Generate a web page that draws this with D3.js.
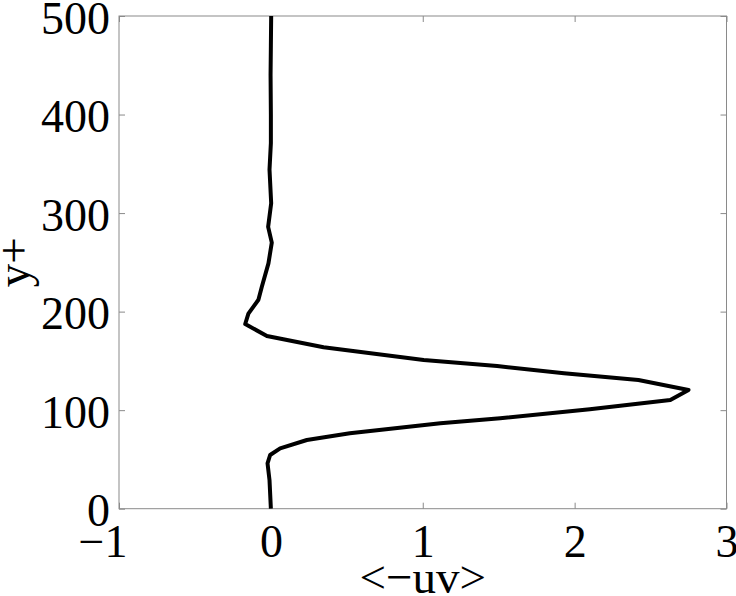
<!DOCTYPE html>
<html>
<head>
<meta charset="utf-8">
<script src="https://cdn.jsdelivr.net/npm/d3@7"></script>
<style>
  body { margin: 0; background: #fff; }
  svg { display: block; }
</style>
</head>
<body>
<script>
var w = 736, h = 596;
var margin = {top: 16, right: 9.5, bottom: 87.3, left: 119};
var innerW = w - margin.left - margin.right,
    innerH = h - margin.top - margin.bottom;

// <-uv> profile, from y+ = 500 down to 0
var yPlus = [500, 470, 440, 400, 371, 344, 310, 286, 270, 249, 225, 212, 198, 187.4,
             175.3, 163.8, 150.9, 144.8, 137.4, 130.6, 120.5, 110.3, 101, 91.7, 86.7,
             76.5, 69.7, 61.3, 54.5, 46, 29, 0];
var uv = [0.002, 0, -0.002, 0, 0, -0.009, 0.002, -0.018, 0.006, -0.016, -0.06, -0.082, -0.148, -0.169,
          -0.026, 0.347, 1.006, 1.49, 1.93, 2.42, 2.75, 2.63, 2.1, 1.51, 1.116,
          0.52, 0.237, 0.061, -0.005, -0.022, -0.009, 0];
var xTicks = [-1, 0, 1, 2, 3];
var yTicks = [0, 100, 200, 300, 400, 500];

var font = '"Liberation Serif", "Times New Roman", serif';
var axisColor = '#8a8a8a';

var svg = d3.select('body').append('svg')
    .attr('width', w)
    .attr('height', h)
    .append('g')
    .attr('transform', 'translate(' + [margin.left, margin.top] + ')');

var x = d3.scaleLinear().domain([-1, 3]).range([0, innerW]);
var y = d3.scaleLinear().domain([0, 500]).range([innerH, 0]);

// frame
svg.append('rect')
    .attr('width', innerW)
    .attr('height', innerH)
    .attr('fill', 'none')
    .attr('stroke', axisColor)
    .attr('stroke-width', 1);

function styleAxis(g) {
    g.select('.domain').remove();
    g.selectAll('line').attr('stroke', axisColor);
    g.selectAll('text')
        .attr('fill', '#000')
        .style('font-family', font)
        .style('font-size', '46px');
}

var xAxis = svg.append('g')
    .attr('transform', 'translate(0,' + innerH + ')')
    .call(d3.axisBottom(x).tickValues(xTicks).tickFormat(d3.format('d')).tickSizeInner(-6).tickSizeOuter(0))
    .call(styleAxis);
xAxis.selectAll('text')
    .attr('y', 48)
    .attr('dy', 0)
    .attr('text-anchor', function(d) { return d < 0 ? 'end' : 'middle'; })
    .attr('dx', function(d) { return d < 0 ? 8 : 0; });

svg.append('g')
    .call(d3.axisTop(x).tickValues(xTicks).tickFormat('').tickSizeInner(-6).tickSizeOuter(0))
    .call(styleAxis);

var yAxis = svg.append('g')
    .call(d3.axisLeft(y).tickValues(yTicks).tickSizeInner(-6).tickSizeOuter(0).tickPadding(9))
    .call(styleAxis);
yAxis.selectAll('text').attr('dy', '0.37em');

svg.append('g')
    .attr('transform', 'translate(' + innerW + ',0)')
    .call(d3.axisRight(y).tickValues(yTicks).tickFormat('').tickSizeInner(-6).tickSizeOuter(0))
    .call(styleAxis);

// profile line
var data = yPlus.map(function(d, i) { return {y: d, v: uv[i]}; });
var line = d3.line()
    .x(function(d) { return x(d.v); })
    .y(function(d) { return y(d.y); });

svg.append('path')
    .datum(data)
    .attr('d', line)
    .attr('fill', 'none')
    .attr('stroke', '#000')
    .attr('stroke-width', 4)
    .attr('stroke-linejoin', 'round');

// axis labels
svg.append('text')
    .attr('x', innerW / 2)
    .attr('y', 593 - margin.top)
    .attr('text-anchor', 'middle')
    .style('font-family', font)
    .style('font-size', '47px')
    .text('<\u2212uv>');

svg.append('text')
    .attr('transform', 'translate(' + (29 - margin.left) + ',' + (innerH / 2) + ') rotate(-90)')
    .attr('text-anchor', 'middle')
    .style('font-family', font)
    .style('font-size', '47px')
    .text('y+');
</script>
</body>
</html>
